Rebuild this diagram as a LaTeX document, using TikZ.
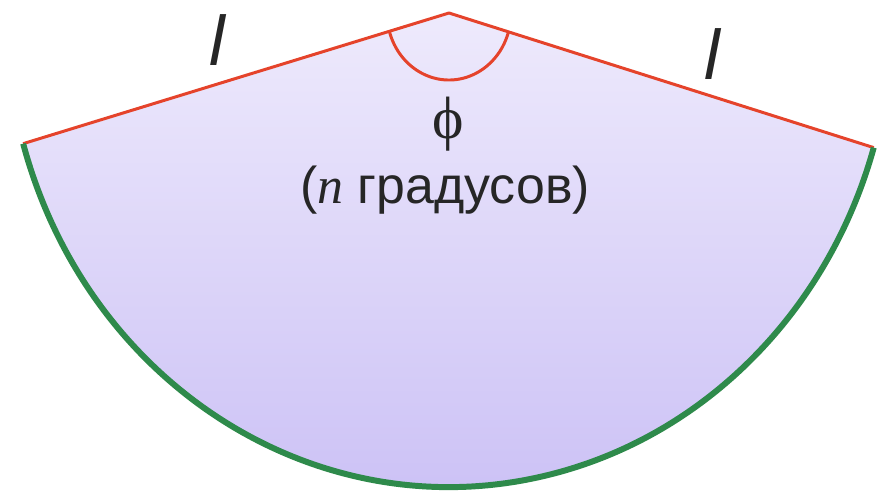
\documentclass[tikz,border=0pt]{standalone}
\usepackage{fontspec}
\setmainfont{Liberation Sans}
\newfontfamily\greekserif{Liberation Serif}
\usetikzlibrary{positioning,calc}
\definecolor{sectortop}{HTML}{EEEAFC}
\definecolor{sectorbottom}{HTML}{C9BEF5}
\definecolor{radiusred}{HTML}{E5432B}
\definecolor{arcgreen}{HTML}{2E8A4B}

\begin{document}
\begin{tikzpicture}[
  x=0.02cm, y=0.02cm,
  radiusline/.style={draw=radiusred, line width=1.7pt, line join=round},
  bigarc/.style={draw=arcgreen, line width=3.4pt},
  lbl/.style={inner sep=0pt, text=black!85},
  lenlbl/.style={lbl, font=\fontsize{40}{44}\selectfont\itshape}
]
  \useasboundingbox (0,0) rectangle (895,-494);

  % Sector corners
  \coordinate (apex) at (449,-13);
  \coordinate (left) at ($(apex)+(196:443 and 474)$);
  \coordinate (right) at ($(apex)+(343.5:443 and 474)$);

  % Surface
  \shade[top color=sectortop, bottom color=sectorbottom]
    (apex) -- (left) arc[start angle=196, end angle=343.5, x radius=443, y radius=474] -- cycle;

  % Radii and angle mark
  \draw[radiusline] (left) -- (apex) -- (right);
  \draw[radiusline] ($(apex)+(196:62 and 67)$)
    arc[start angle=196, end angle=343.5, x radius=62, y radius=67];

  % Outer arc
  \draw[bigarc] (left) arc[start angle=196, end angle=343.5, x radius=443, y radius=474];

  % Labels
  \node[lenlbl] (lenleft) at (217,-40) {l};
  \node[lenlbl] (lenright) at (712,-54) {l};
  \node[lbl, font=\fontsize{34}{38}\selectfont\greekserif] (angle) at (448,-124) {ϕ};
  \node[lbl, font=\fontsize{29.5}{33}\selectfont] (degrees) at (445,-190)
    {({\greekserif\itshape n} градусов)};
\end{tikzpicture}
\end{document}
